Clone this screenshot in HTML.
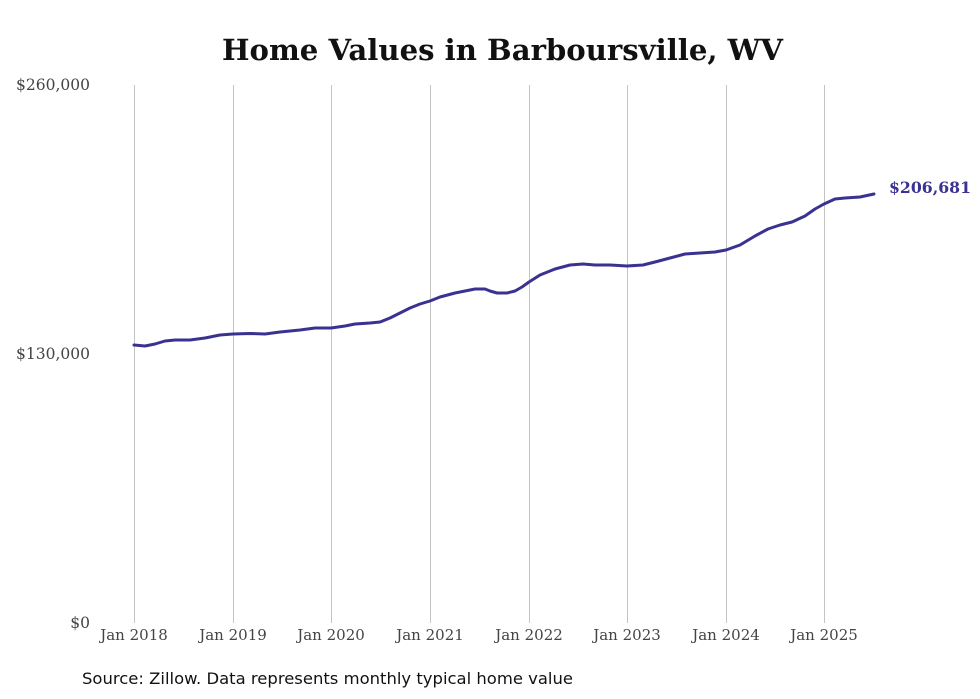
<!DOCTYPE html>
<html><head><meta charset="utf-8"><style>
body{margin:0;background:#fff}
svg{display:block}
text{font-family:"DejaVu Serif","Liberation Serif",serif}
</style></head><body>
<svg width="980" height="699" viewBox="0 0 980 699" xmlns="http://www.w3.org/2000/svg">
<rect width="980" height="699" fill="#fff"/>
<text x="222" y="60" textLength="561" lengthAdjust="spacingAndGlyphs" font-size="29" font-weight="bold" fill="#111">Home Values in Barboursville, WV</text>
<g stroke="#c4c4c4" stroke-width="1">
<line x1="134.5" y1="85" x2="134.5" y2="623"/><line x1="233.5" y1="85" x2="233.5" y2="623"/>
<line x1="331.5" y1="85" x2="331.5" y2="623"/><line x1="430.5" y1="85" x2="430.5" y2="623"/>
<line x1="529.5" y1="85" x2="529.5" y2="623"/><line x1="627.5" y1="85" x2="627.5" y2="623"/>
<line x1="726.5" y1="85" x2="726.5" y2="623"/><line x1="824.5" y1="85" x2="824.5" y2="623"/>
</g>
<g font-size="15.5" fill="#444" text-anchor="end">
<text x="90" y="90">$260,000</text><text x="90" y="359">$130,000</text><text x="90" y="628">$0</text>
</g>
<g font-size="15" fill="#444" text-anchor="middle">
<text x="134" y="640">Jan 2018</text><text x="233" y="640">Jan 2019</text><text x="331" y="640">Jan 2020</text><text x="430" y="640">Jan 2021</text>
<text x="529" y="640">Jan 2022</text><text x="627" y="640">Jan 2023</text><text x="726" y="640">Jan 2024</text><text x="824" y="640">Jan 2025</text>
</g>
<polyline fill="none" stroke="#3a3291" stroke-width="3" stroke-linejoin="round" stroke-linecap="round" points="134,345 145,346 155,344 165,341 175,340 190,340 205,338 220,335 233,334 250,333.5 265,334 280,332 300,330 315,328 331,328 345,326 355,324 370,323 380,322 390,318 400,313 410,308 420,304 430,301 440,297 455,293 465,291 475,289 485,289 490,291 497,293 507,293 515,291 522,287 529,282 540,275 555,269 570,265 583,264 595,265 610,265 627,266 643,265 655,262 670,258 685,254 700,253 715,252 726,250 740,245 755,236 768,229 780,225 792,222 805,216 815,209 824,204 835,199 845,198 860,197 874,194"/>
<text x="889" y="193" textLength="82" lengthAdjust="spacingAndGlyphs" font-size="16" font-weight="bold" fill="#3a3291">$206,681</text>
<text x="82" y="684" textLength="491" lengthAdjust="spacingAndGlyphs" font-size="16" fill="#111" style="font-family:'DejaVu Sans','Liberation Sans',sans-serif">Source: Zillow. Data represents monthly typical home value</text>
</svg>
</body></html>
